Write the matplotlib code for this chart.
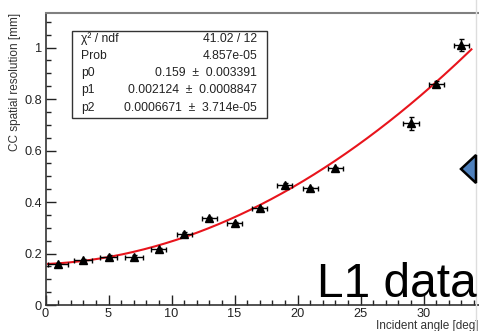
import numpy as np
import matplotlib
matplotlib.use("Agg")
from matplotlib import pyplot as plt
from matplotlib.patches import Polygon, Rectangle
from matplotlib.ticker import MultipleLocator, FuncFormatter

plt.rcParams['font.family'] = ['Liberation Sans', 'DejaVu Sans']

# measured points
angle = [1, 3, 5, 7, 9, 11, 13, 15, 17, 19, 21, 23, 29, 31, 33]
resolution = [0.158, 0.175, 0.188, 0.188, 0.216, 0.276, 0.337, 0.317,
              0.375, 0.466, 0.453, 0.531, 0.706, 0.858, 1.010]
angle_err = [0.8, 0.7, 0.7, 0.7, 0.6, 0.6, 0.6, 0.6,
             0.6, 0.6, 0.6, 0.6, 0.6, 0.6, 0.6]
res_err = [0.005, 0.005, 0.005, 0.005, 0.006, 0.006, 0.006, 0.006,
           0.006, 0.006, 0.006, 0.006, 0.025, 0.012, 0.022]

# pol2 fit result
p0, p1, p2 = 0.159, 0.002124, 0.0006671
fit_range = (0.2, 33.8)

stat_names = ["χ² / ndf", "Prob", "p0", "p1", "p2"]
stat_values = ["41.02 / 12", "4.857e-05", "0.159  ±  0.003391",
               "0.002124  ±  0.0008847", "0.0006671  ±  3.714e-05"]

W, H = 479, 331
fig = plt.figure(figsize=(W / 100, H / 100), dpi=100)
ax = fig.add_axes([45.5 / W, 26 / H, (W - 45.5) / W, 292 / H])

# fit curve
xf = np.linspace(fit_range[0], fit_range[1], 200)
ax.plot(xf, p0 + p1 * xf + p2 * xf ** 2, color='#e8141c', lw=1.5, zorder=2)

# data
ax.errorbar(angle, resolution, xerr=angle_err, yerr=res_err, fmt='^',
            color='black', ms=5.5, elinewidth=1, capsize=1.8, capthick=1, zorder=3)

ax.set_xlim(0, 34.4)
ax.set_ylim(0, 1.134)
ax.xaxis.set_major_locator(MultipleLocator(5))
ax.xaxis.set_minor_locator(MultipleLocator(1))
ax.yaxis.set_major_locator(MultipleLocator(0.2))
ax.yaxis.set_minor_locator(MultipleLocator(0.05))
ax.yaxis.set_major_formatter(FuncFormatter(lambda v, p: f"{v:g}"))
ax.tick_params(which='major', direction='in', length=7, width=1, labelsize=9.2,
               colors='#222222', pad=2.5)
ax.tick_params(which='minor', direction='in', length=3.5, width=1, colors='#222222')
ax.tick_params(axis='x', which='both', top=False)
ax.tick_params(axis='y', which='both', right=False)

ax.spines['right'].set_visible(False)
ax.spines['top'].set_color('#808080')
ax.spines['top'].set_linewidth(1.5)
for s in ['left', 'bottom']:
    ax.spines[s].set_color('#333333')
    ax.spines[s].set_linewidth(1.2)

fig.text(15 / W, 1 - 13 / H, "CC spatial resolution [mm]", rotation=90,
         ha='center', va='top', fontsize=8.5, color='#333333')
fig.text(478 / W, 1 - 320 / H, "Incident angle [deg]", ha='right',
         va='top', fontsize=8.5, color='#333333')

# stats box
fig.patches.append(Rectangle((72 / W, 1 - 118.3 / H), (267.3 - 72) / W, 87.6 / H,
                             transform=fig.transFigure, facecolor='white',
                             edgecolor='#333333', lw=1, zorder=5))
for i, (n, v) in enumerate(zip(stat_names, stat_values)):
    y = 1 - (38.7 + i * 17.25) / H
    fig.text(81 / W, y, n, ha='left', va='center', fontsize=8.7, color='#222222', zorder=6)
    fig.text(257 / W, y, v, ha='right', va='center', fontsize=8.7, color='#222222', zorder=6)

# slide overlay bits
fig.add_artist(plt.Line2D([476 / W, 476 / W], [0, 1], color='#dddddd', lw=1,
                          transform=fig.transFigure, zorder=7))
fig.patches.append(Polygon([(461 / W, 1 - 169 / H), (476 / W, 1 - 155 / H),
                            (476 / W, 1 - 183 / H)], closed=True,
                           transform=fig.transFigure, facecolor='#4f81bd',
                           edgecolor='black', lw=1.8, zorder=8))
fig.text(317 / W, 34.3 / H, "L1 data", ha='left', va='baseline',
         fontsize=34.5, color='black', zorder=9)

fig.savefig("out.png", dpi=100)
